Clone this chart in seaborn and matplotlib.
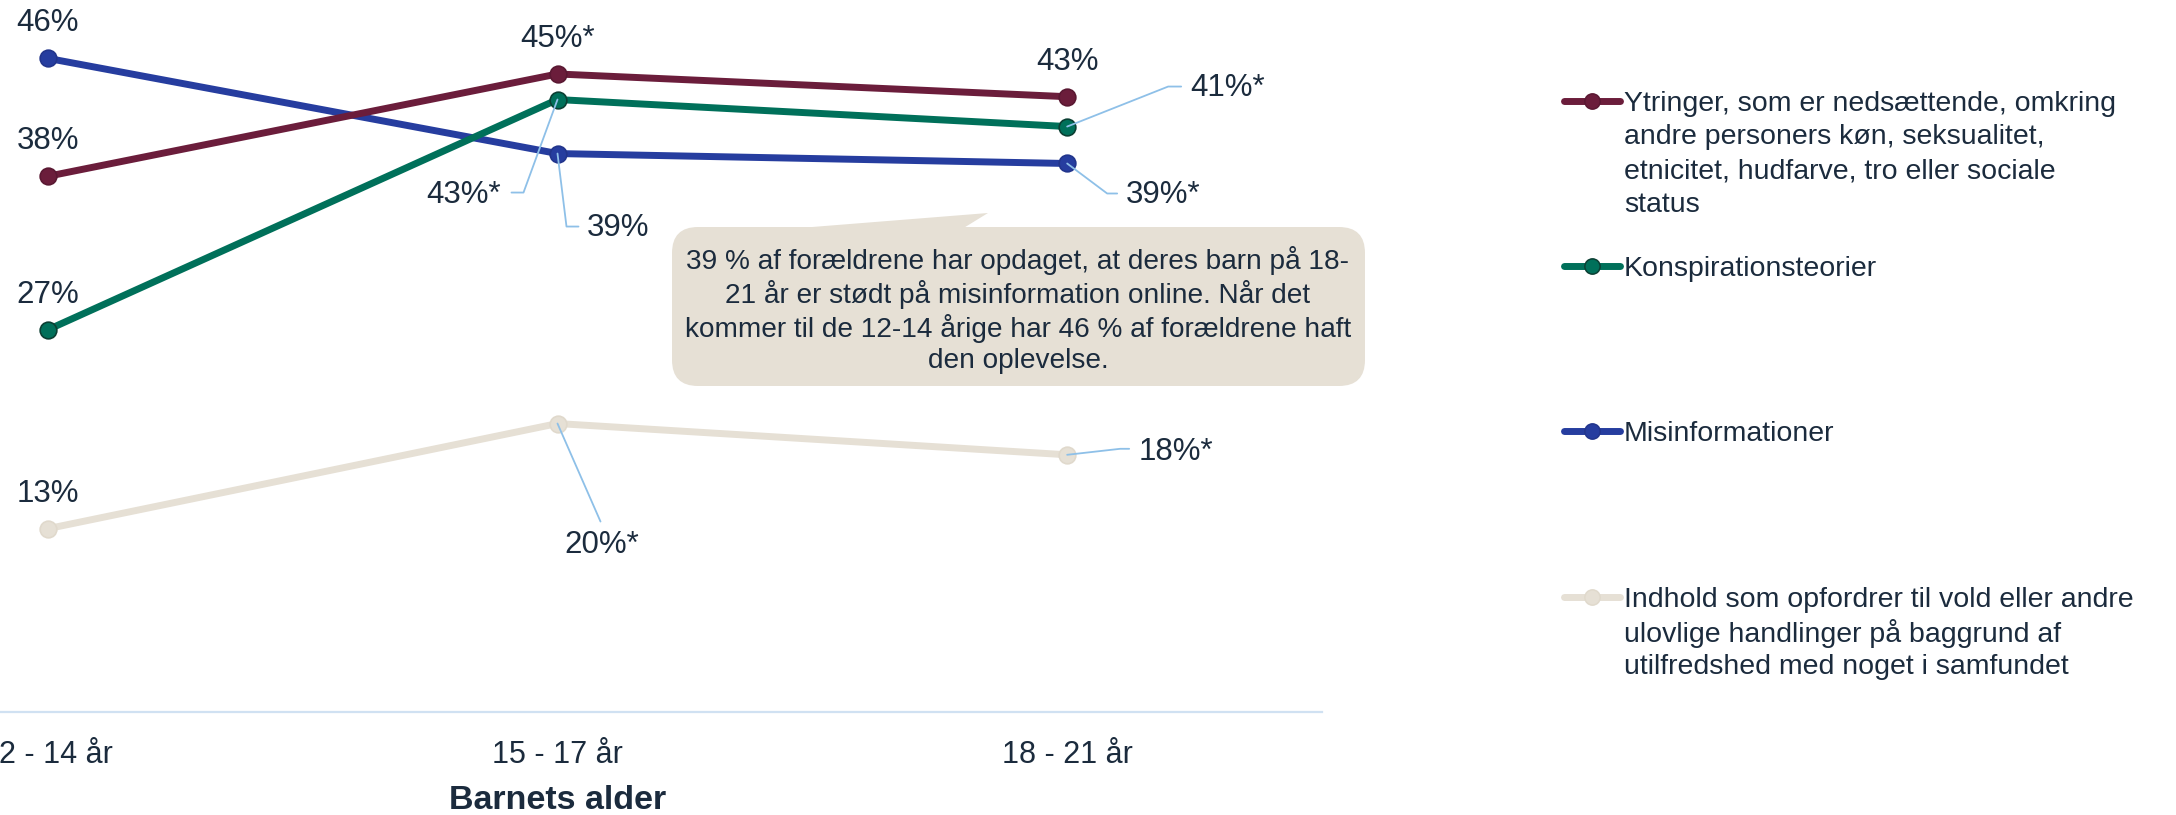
import matplotlib
matplotlib.use('Agg')
import matplotlib.pyplot as plt
import matplotlib.transforms as mtransforms
from matplotlib.patches import FancyBboxPatch, Polygon
from matplotlib.lines import Line2D
import seaborn as sns
import pandas as pd

W, H, DPI = 2176, 815, 100

# data
ages = ['12 - 14 år', '15 - 17 år', '18 - 21 år']
ytringer = [37.7, 44.9, 43.3]
konspiration = [26.9, 43.1, 41.2]
misinformation = [46.0, 39.3, 38.6]
vold = [12.9, 20.3, 18.1]

labels_ytringer = ['38%', '45%*', '43%']
labels_konspiration = ['27%', '43%*', '41%*']
labels_misinformation = ['46%', '39%', '39%*']
labels_vold = ['13%', '20%*', '18%*']

legend_labels = [
    'Ytringer, som er nedsættende, omkring\nandre personers køn, seksualitet,\netnicitet, hudfarve, tro eller sociale\nstatus',
    'Konspirationsteorier',
    'Misinformationer',
    'Indhold som opfordrer til vold eller andre\nulovlige handlinger på baggrund af\nutilfredshed med noget i samfundet',
]
callout_text = ('39 % af forældrene har opdaget, at deres barn på 18-\n'
                '21 år er stødt på misinformation online. Når det\n'
                'kommer til de 12-14 årige har 46 % af forældrene haft\n'
                'den oplevelse.')

COLORS = ['#6b1d3b', '#00705a', '#263d9f', '#e6e0d5']
EDGES = ['#5a1832', '#0b3f33', '#22358c', '#e0d9cc']
TEXT = '#1b2b3d'
LEADER = '#8ec0e8'
LW = 5.0
MS = 12

sns.set_theme(style='white')
plt.rcParams['font.family'] = ['Liberation Sans', 'DejaVu Sans']

fig = plt.figure(figsize=(W / DPI, H / DPI), dpi=DPI)
# axes extends off the left edge, like the source chart
ax = fig.add_axes([-207 / W, 103 / H, 1529 / W, 710.5 / H])

series = [ytringer, konspiration, misinformation, vold]
for vals, c, ec in zip(series[::-1], COLORS[::-1], EDGES[::-1]):
    sns.lineplot(x=ages, y=vals, ax=ax, color=c, marker='o',
                 sort=False, clip_on=False, zorder=3)
    ln = ax.lines[-1]
    ln.set_linewidth(LW)
    ln.set_markersize(MS)
    ln.set_markeredgecolor(ec)
    ln.set_markeredgewidth(1.2)
    ln.set_solid_capstyle('round')

ax.set_xlim(-0.5, 2.5)
ax.set_ylim(0, 50)
ax.set_yticks([])
for s in ['left', 'right', 'top']:
    ax.spines[s].set_visible(False)
ax.spines['bottom'].set_color('#d0e1f2')
ax.spines['bottom'].set_linewidth(1.6)
ax.tick_params(axis='x', length=0, pad=20, labelsize=22, labelcolor=TEXT)
ax.set_xlabel('Barnets alder', fontsize=24.5, fontweight='bold', color=TEXT, labelpad=11)
ax.set_ylabel('')

pix = mtransforms.Affine2D().scale(1, -1).translate(0, H)


def anchor(i, v, dx, dy):
    x, y = ax.transData.transform((i, v))
    return x + dx, y - dy


# labels above markers
plain = [
    (misinformation, 0, labels_misinformation[0]),
    (ytringer, 0, labels_ytringer[0]),
    (konspiration, 0, labels_konspiration[0]),
    (vold, 0, labels_vold[0]),
    (ytringer, 1, labels_ytringer[1]),
    (ytringer, 2, labels_ytringer[2]),
]
for vals, i, txt in plain:
    x, y = anchor(i, vals[i], 0, -35)
    fig.text(x, y, txt, transform=None, ha='center', va='center',
             fontsize=22.5, color=TEXT)

# labels with leader lines: (values, index, text, text offset, leader path offsets) in px
leadered = [
    (konspiration, 1, labels_konspiration[1], (-94, 95), [(0, 0), (-34, 93), (-46, 93)]),
    (misinformation, 1, labels_misinformation[1], (61, 74), [(0, 0), (9, 73), (21, 73)]),
    (konspiration, 2, labels_konspiration[2], (160, -39), [(0, 0), (101, -40), (114, -40)]),
    (misinformation, 2, labels_misinformation[2], (96, 32), [(0, 0), (40, 30), (50, 30)]),
    (vold, 1, labels_vold[1], (44, 121), [(0, 0), (43, 98)]),
    (vold, 2, labels_vold[2], (109, -3), [(0, 0), (53, -6), (62, -6)]),
]
for vals, i, txt, (tx, ty), path in leadered:
    pts = [anchor(i, vals[i], dx, dy) for dx, dy in path]
    fig.add_artist(Line2D([p[0] for p in pts], [p[1] for p in pts], transform=None,
                          color=LEADER, linewidth=1.3, zorder=5))
    x, y = anchor(i, vals[i], tx, ty)
    fig.text(x, y, txt, transform=None, ha='center', va='center',
             fontsize=22.5, color=TEXT)

# callout bubble
fig.add_artist(Polygon([(787, 229), (988, 213), (962, 229)], closed=True,
                       transform=pix, facecolor='#e6e0d5', edgecolor='none'))
fig.add_artist(FancyBboxPatch((672, 227), 693, 159,
                              boxstyle='round,pad=0,rounding_size=26',
                              transform=pix, facecolor='#e6e0d5', edgecolor='none'))
fig.text(1018, 310, callout_text, transform=pix, ha='center', va='center',
         multialignment='center', fontsize=20.2, color=TEXT, linespacing=1.22)

# legend
first_y = [101, 266, 431, 597]
for lab, c, ec, y0 in zip(legend_labels, COLORS, EDGES, first_y):
    fig.add_artist(Line2D([1564, 1620], [y0, y0], transform=pix, color=c,
                          linewidth=LW, solid_capstyle='round'))
    fig.add_artist(Line2D([1592], [y0], transform=pix, color=c, marker='o',
                          markersize=MS - 1, markeredgecolor=ec, markeredgewidth=1.1))
    for k, line in enumerate(lab.split('\n')):
        fig.text(1624, y0 + k * 33.5, line, transform=pix, ha='left',
                 va='center_baseline', fontsize=20.5, color=TEXT)

fig.savefig('out.png', dpi=DPI, facecolor='white')
